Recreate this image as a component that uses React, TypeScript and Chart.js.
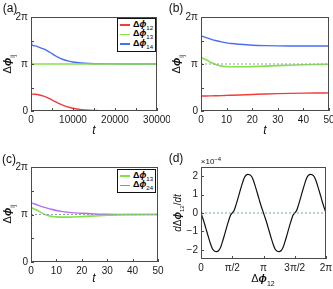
import React, { useEffect, useRef } from "react";
import { Chart, registerables } from "chart.js";
Chart.register(...registerables);

// ---------- data (phases in units of π) ----------
const aTime = [0, 200, 1000, 2000, 3000, 4000, 5000, 6000, 7000, 8000, 9000, 10000, 12000, 14000, 16000, 18000, 20000, 25000, 30000];
const aPhi12 = [0.36, 0.36, 0.355, 0.34, 0.315, 0.28, 0.235, 0.19, 0.145, 0.11, 0.08, 0.058, 0.03, 0.016, 0.009, 0.005, 0.003, 0.001, 0];
const aPhi13 = [1.15, 1.0, 1.0, 1.0, 1.0, 1.0, 1.0, 1.0, 1.0, 1.0, 1.0, 1.0, 1.0, 1.0, 1.0, 1.0, 1.0, 1.0, 1.0];
const aPhi14 = [1.6, 1.4, 1.385, 1.355, 1.32, 1.275, 1.22, 1.165, 1.12, 1.085, 1.06, 1.042, 1.022, 1.012, 1.006, 1.003, 1.002, 1.0, 1.0];

const bTime = [0, 2, 4, 6, 8, 10, 12, 15, 20, 25, 30, 35, 40, 45, 50];
const bPhi12 = [0.32, 0.32, 0.322, 0.325, 0.328, 0.332, 0.336, 0.342, 0.352, 0.362, 0.37, 0.376, 0.38, 0.383, 0.385];
const bPhi13 = [1.14, 1.09, 1.03, 0.985, 0.955, 0.945, 0.94, 0.94, 0.945, 0.955, 0.965, 0.975, 0.985, 0.99, 0.995];
const bPhi14 = [1.6, 1.56, 1.525, 1.495, 1.47, 1.45, 1.435, 1.42, 1.4, 1.39, 1.385, 1.383, 1.382, 1.382, 1.382];

const cTime = [0, 2, 4, 6, 8, 10, 12, 15, 20, 25, 30, 35, 40, 45, 50];
const cPhi13 = [1.15, 1.1, 1.04, 0.99, 0.96, 0.95, 0.945, 0.945, 0.955, 0.97, 0.985, 0.993, 0.998, 1.0, 1.0];
const cPhi24 = [1.25, 1.21, 1.17, 1.14, 1.11, 1.085, 1.065, 1.045, 1.025, 1.012, 1.006, 1.003, 1.001, 1.0, 1.0];

const refLineX50 = [0, 50];
const refLinePi = [1, 1];

// panel (d): Δφ12 in units of π, dΔφ12/dt in units of 1e-4
const dPhi = [
  0, 0.03, 0.0625, 0.09, 0.125, 0.16, 0.1875, 0.22, 0.25, 0.28, 0.3125, 0.34, 0.375, 0.41, 0.4375, 0.47,
  0.5, 0.53, 0.5625, 0.59, 0.625, 0.66, 0.6875, 0.72, 0.75, 0.78, 0.8125, 0.84, 0.875, 0.91, 0.9375, 0.97,
  1.0, 1.03, 1.0625, 1.09, 1.125, 1.16, 1.1875, 1.22, 1.25, 1.28, 1.3125, 1.34, 1.375, 1.41, 1.4375, 1.47,
  1.5, 1.53, 1.5625, 1.59, 1.625, 1.66, 1.6875, 1.72, 1.75, 1.78, 1.8125, 1.84, 1.875, 1.91, 1.9375, 1.97, 2.0,
];
const dRate = [
  0, -0.3, -0.65, -0.98, -1.38, -1.75, -1.97, -2.08, -2.1, -2.05, -1.88, -1.6, -1.2, -0.78, -0.47, -0.14,
  0, 0.14, 0.47, 0.78, 1.2, 1.6, 1.88, 2.05, 2.1, 2.08, 1.97, 1.75, 1.38, 0.98, 0.65, 0.3,
  0, -0.3, -0.65, -0.98, -1.38, -1.75, -1.97, -2.08, -2.1, -2.05, -1.88, -1.6, -1.2, -0.78, -0.47, -0.14,
  0, 0.14, 0.47, 0.78, 1.2, 1.6, 1.88, 2.05, 2.1, 2.08, 1.97, 1.75, 1.38, 0.98, 0.65, 0.3, 0,
];
const dRefX = [0, 2];
const dRefY = [0, 0];

const piTicks = [0, 0.5, 1, 1.5, 2];
const piTickLabels = ["0", "", "π", "", "2π"];
const dXTickLabels = ["0", "π/2", "π", "3π/2", "2π"];
const aXTicks = [0, 5000, 10000, 15000, 20000, 25000, 30000];
const aXTickLabels = ["0", "", "10000", "", "20000", "", "30000"];
const tXTicks = [0, 10, 20, 30, 40, 50];
const tXTickLabels = ["0", "10", "20", "30", "40", "50"];
const dYTicks = [-2, -1, 0, 1, 2];
const dYTickLabels = ["−2", "−1", "0", "1", "2"];

const RED = "#f23b3b";
const GREEN = "#86e04a";
const BLUE = "#4a6ef2";
const PURPLE = "#b56ef0";
const FONT = "'Liberation Sans', Arial, Helvetica, sans-serif";

const pts = (xs: number[], ys: number[]) => xs.map((x, i) => ({ x, y: ys[i] }));

const frameTicks = {
  id: "frameTicks",
  afterDatasetsDraw(chart: any) {
    const { ctx, chartArea } = chart;
    const { left, right, top, bottom } = chartArea;
    ctx.save();
    ctx.strokeStyle = "#4a4a4a";
    ctx.lineWidth = 1;
    ctx.strokeRect(Math.round(left) + 0.5, Math.round(top) + 0.5, Math.round(right - left) - 1, Math.round(bottom - top) - 1);
    const xs = chart.scales.x;
    const ys = chart.scales.y;
    ctx.beginPath();
    xs.ticks.forEach((t: any) => {
      const px = Math.round(xs.getPixelForValue(t.value)) + 0.5;
      ctx.moveTo(px, bottom);
      ctx.lineTo(px, bottom - 3);
    });
    ys.ticks.forEach((t: any) => {
      const py = Math.round(ys.getPixelForValue(t.value)) + 0.5;
      ctx.moveTo(left, py);
      ctx.lineTo(left + 3, py);
    });
    ctx.stroke();
    ctx.restore();
  },
};

type Box = { left: number; top: number; w: number; h: number };
type Area = { l: number; t: number; r: number; b: number };

function line(data: any[], color: string, width = 1.4, dash?: number[]) {
  return {
    data,
    borderColor: color,
    borderWidth: width,
    borderDash: dash || [],
    pointRadius: 0,
    fill: false,
    cubicInterpolationMode: "monotone",
  };
}

function makeConfig(
  box: Box,
  area: Area,
  datasets: any[],
  xr: [number, number],
  xTicks: number[],
  xLabels: string[],
  yr: [number, number],
  yTicks: number[],
  yLabels: string[]
) {
  const yWidth = area.l - box.left;
  const xHeight = box.top + box.h - area.b;
  const padTop = area.t - box.top;
  const padRight = box.left + box.w - area.r;
  const tickFont = { family: FONT, size: 10 };
  return {
    type: "line",
    data: { datasets },
    options: {
      animation: false,
      responsive: false,
      devicePixelRatio: 1,
      layout: { padding: { top: padTop, right: padRight, left: 0, bottom: 0 } },
      plugins: { legend: { display: false }, tooltip: { enabled: false } },
      scales: {
        x: {
          type: "linear",
          min: xr[0],
          max: xr[1],
          grid: { display: false, drawTicks: false },
          border: { display: false },
          afterBuildTicks: (s: any) => {
            s.ticks = xTicks.map((v) => ({ value: v }));
          },
          afterFit: (s: any) => {
            s.height = xHeight;
            s.paddingLeft = 0;
            s.paddingRight = 0;
          },
          ticks: {
            autoSkip: false,
            maxRotation: 0,
            padding: 3,
            color: "#1a1a1a",
            font: tickFont,
            callback: (_v: any, i: number) => xLabels[i],
          },
        },
        y: {
          type: "linear",
          min: yr[0],
          max: yr[1],
          grid: { display: false, drawTicks: false },
          border: { display: false },
          afterBuildTicks: (s: any) => {
            s.ticks = yTicks.map((v) => ({ value: v }));
          },
          afterFit: (s: any) => {
            s.width = yWidth;
            s.paddingTop = 0;
            s.paddingBottom = 0;
          },
          ticks: {
            autoSkip: false,
            padding: 3,
            color: "#1a1a1a",
            font: tickFont,
            callback: (_v: any, i: number) => yLabels[i],
          },
        },
      },
    },
    plugins: [frameTicks],
  };
}

function ChartPanel({ box, config }: { box: Box; config: any }) {
  const ref = useRef<HTMLCanvasElement>(null);
  useEffect(() => {
    const c = new Chart(ref.current as HTMLCanvasElement, config);
    return () => c.destroy();
  }, []);
  return (
    <canvas
      ref={ref}
      width={box.w}
      height={box.h}
      style={{ position: "absolute", left: box.left, top: box.top, width: box.w, height: box.h }}
    />
  );
}

const Phi = ({ sub }: { sub: string }) => (
  <span>
    Δ<i style={{ fontWeight: 700 }}>ϕ</i>
    <sub style={{ fontSize: "0.62em", fontWeight: 400 }}>{sub}</sub>
  </span>
);

function Label({ x, y, children, size = 11, rotate = false, style = {} }: any) {
  return (
    <div
      style={{
        position: "absolute",
        left: x,
        top: y,
        transform: `translate(-50%, -50%)${rotate ? " rotate(-90deg)" : ""}`,
        whiteSpace: "nowrap",
        fontFamily: FONT,
        fontSize: size,
        lineHeight: 1,
        color: "#111",
        ...style,
      }}
    >
      {children}
    </div>
  );
}

function Legend({ left, top, width, items }: { left: number; top: number; width: number; items: [string, string][] }) {
  return (
    <div
      style={{
        position: "absolute",
        left,
        top,
        width,
        border: "1.5px solid #111",
        background: "#fff",
        padding: "1px 2px 2px 2px",
        boxSizing: "border-box",
        fontFamily: FONT,
        fontSize: 9,
      }}
    >
      {items.map(([c, s]) => (
        <div key={s} style={{ display: "flex", alignItems: "center", height: 9.5 }}>
          <div style={{ width: 12, height: 1.5, background: c, marginRight: 3 }} />
          <span style={{ fontWeight: 700 }}>
            Δ<i>ϕ</i>
            <sub style={{ fontSize: 6, fontWeight: 400 }}>{s}</sub>
          </span>
        </div>
      ))}
    </div>
  );
}

const boxA: Box = { left: 0, top: 0, w: 170, h: 140 };
const areaA: Area = { l: 31, t: 17, r: 157, b: 111 };
const boxB: Box = { left: 168, top: 0, w: 165, h: 140 };
const areaB: Area = { l: 201, t: 17, r: 329, b: 111 };
const boxC: Box = { left: 0, top: 145, w: 170, h: 144 };
const areaC: Area = { l: 31, t: 167, r: 158, b: 262 };
const boxD: Box = { left: 168, top: 145, w: 165, h: 144 };
const areaD: Area = { l: 201, t: 167, r: 326, b: 259 };

const refDash = "#8fa0b4";

const cfgA = makeConfig(
  boxA,
  areaA,
  [line(pts(aTime, aPhi13), GREEN, 1.6), line(pts(aTime, aPhi14), BLUE), line(pts(aTime, aPhi12), RED)],
  [0, 30000],
  aXTicks,
  aXTickLabels,
  [0, 2],
  piTicks,
  piTickLabels
);
const cfgB = makeConfig(
  boxB,
  areaB,
  [
    line(pts(refLineX50, refLinePi), refDash, 1, [2, 2]),
    line(pts(bTime, bPhi13), GREEN, 1.6),
    line(pts(bTime, bPhi14), BLUE),
    line(pts(bTime, bPhi12), RED),
  ],
  [0, 50],
  tXTicks,
  tXTickLabels,
  [0, 2],
  piTicks,
  piTickLabels
);
const cfgC = makeConfig(
  boxC,
  areaC,
  [
    line(pts(refLineX50, refLinePi), refDash, 1, [2, 2]),
    line(pts(cTime, cPhi13), GREEN, 1.6),
    line(pts(cTime, cPhi24), PURPLE),
  ],
  [0, 50],
  tXTicks,
  tXTickLabels,
  [0, 2],
  piTicks,
  piTickLabels
);
const cfgD = makeConfig(
  boxD,
  areaD,
  [line(pts(dRefX, dRefY), "#6fa8a8", 1, [2, 2]), line(pts(dPhi, dRate), "#111", 1.2)],
  [0, 2],
  piTicks,
  dXTickLabels,
  [-2.5, 2.5],
  dYTicks,
  dYTickLabels
);

export default function App() {
  return (
    <div style={{ position: "fixed", left: 0, top: 0, width: 333, height: 289, background: "#fff", overflow: "hidden" }}>
      <ChartPanel box={boxA} config={cfgA} />
      <ChartPanel box={boxB} config={cfgB} />
      <ChartPanel box={boxC} config={cfgC} />
      <ChartPanel box={boxD} config={cfgD} />

      <Label x={10} y={8} size={12}>(a)</Label>
      <Label x={176} y={8} size={12}>(b)</Label>
      <Label x={9} y={159} size={12}>(c)</Label>
      <Label x={176} y={158} size={12}>(d)</Label>

      <Label x={9} y={64} size={11} rotate>
        Δ<i style={{ fontWeight: 700 }}>ϕ</i><sub style={{ fontSize: 7 }}>ij</sub>
      </Label>
      <Label x={178} y={64} size={11} rotate>
        Δ<i style={{ fontWeight: 700 }}>ϕ</i><sub style={{ fontSize: 7 }}>ij</sub>
      </Label>
      <Label x={9} y={214} size={11} rotate>
        Δ<i style={{ fontWeight: 700 }}>ϕ</i><sub style={{ fontSize: 7 }}>ij</sub>
      </Label>
      <Label x={179} y={213} size={10} rotate>
        <i>d</i>Δ<i style={{ fontWeight: 700 }}>ϕ</i><sub style={{ fontSize: 6 }}>12</sub>/<i>dt</i>
      </Label>

      <Label x={94} y={130} size={12}><i>t</i></Label>
      <Label x={265} y={130} size={12}><i>t</i></Label>
      <Label x={94} y={278} size={12}><i>t</i></Label>
      <Label x={263} y={280} size={11}>
        Δ<i style={{ fontWeight: 700 }}>ϕ</i><sub style={{ fontSize: 7 }}>12</sub>
      </Label>

      <Label x={211} y={161} size={8}>
        ×10<sup style={{ fontSize: 6 }}>−4</sup>
      </Label>

      <Legend left={117} top={18} width={39} items={[[RED, "12"], [GREEN, "13"], [BLUE, "14"]]} />
      <Legend left={117} top={169} width={39} items={[[GREEN, "13"], [PURPLE, "24"]]} />
    </div>
  );
}
